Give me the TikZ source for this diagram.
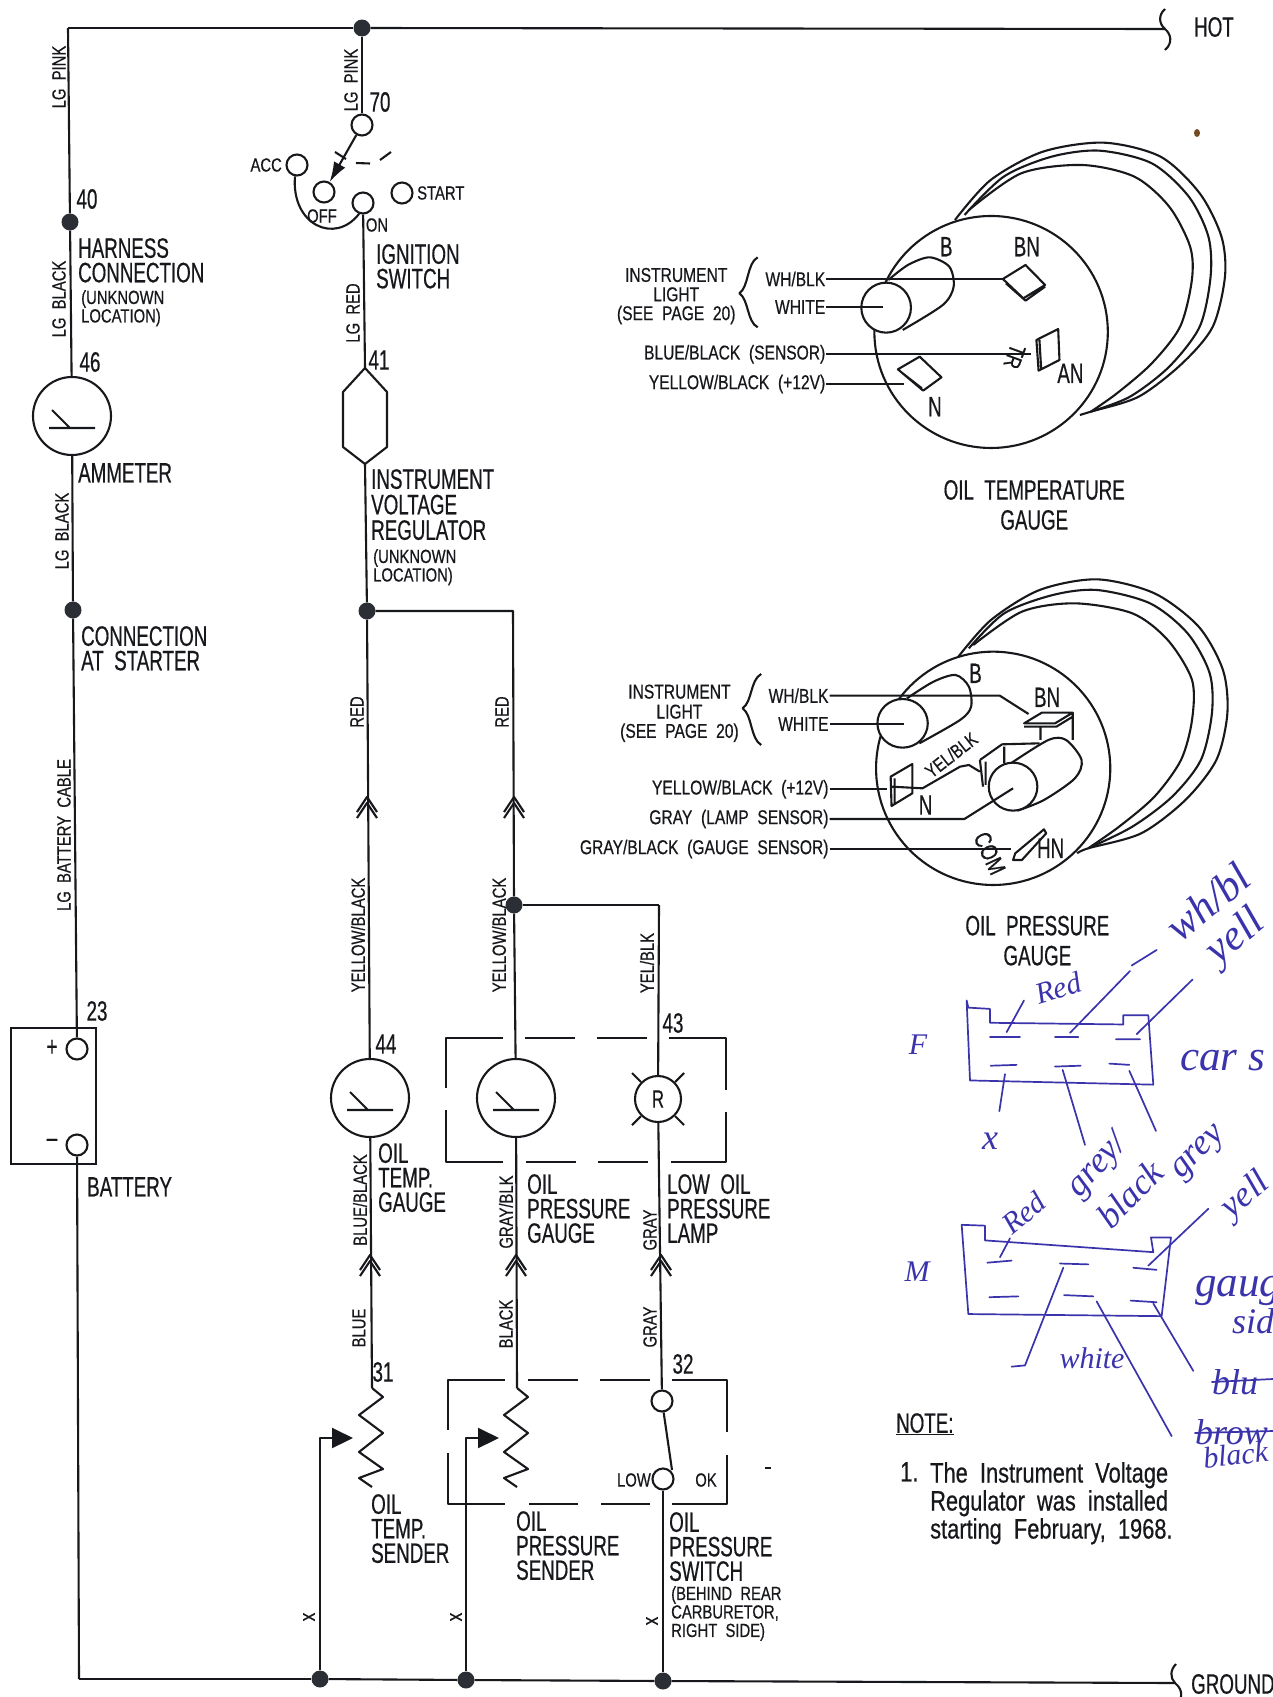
\documentclass[tikz,border=0pt]{standalone}
\usepackage{fontspec}
\usetikzlibrary{arrows.meta}
\setmainfont{Liberation Sans}
\newfontfamily\bigf{Liberation Sans}[FakeStretch=0.67,FakeBold=0.5]
\newfontfamily\smf{Liberation Sans}[FakeStretch=0.78,FakeBold=0.5]
\newfontfamily\penf{Liberation Serif}[Ligatures=TeX]
\newcommand\BF{\bigf\fontsize{28}{24.5}\selectfont}
\newcommand\SF{\smf\fontsize{19}{18.5}\selectfont}
\newcommand\PF{\smf\fontsize{20}{20}\selectfont}
\newcommand\NF{\smf\fontsize{28}{28}\selectfont}
\newcommand\HF{\penf\itshape\fontsize{36}{36}\selectfont}
\newcommand\HS{\penf\itshape\fontsize{30}{30}\selectfont}
\newcommand\HL{\penf\itshape\fontsize{43}{43}\selectfont}
\definecolor{ink}{HTML}{17181B}
\definecolor{dot}{HTML}{2B2E35}
\definecolor{pen}{HTML}{3A33AC}
\tikzset{
  wire/.style={draw=ink,line width=2.1pt,line join=round},
  term/.style={circle,draw=ink,line width=2.1pt,fill=white,minimum size=21pt,inner sep=0pt},
  junc/.style={circle,fill=dot,draw=none,minimum size=17pt,inner sep=0pt},
  meter/.style={circle,draw=ink,line width=2.1pt,fill=white,minimum size=78pt,inner sep=0pt},
  lamp/.style={circle,draw=ink,line width=2.1pt,fill=white,minimum size=46pt,inner sep=0pt,text=ink,font=\bigf\fontsize{25}{25}\selectfont},
  big/.style={anchor=north west,inner sep=0pt,align=left,text=ink,font=\BF},
  num/.style={inner sep=0pt,text=ink,font=\BF},
  small/.style={anchor=north west,inner sep=0pt,align=left,text=ink,font=\SF},
  wl/.style={rotate=90,inner sep=0pt,text=ink,font=\SF},
  pin/.style={anchor=east,inner sep=1pt,text=ink,font=\PF},
  ctr/.style={inner sep=0pt,align=center,text=ink,font=\PF},
  title/.style={inner sep=0pt,align=center,text=ink,font=\bigf\fontsize{28}{30}\selectfont},
  hand/.style={inner sep=0pt,text=pen,font=\HF},
  penline/.style={draw=pen,line width=1.7pt,line cap=round,line join=round},
  chev/.pic={\draw[wire] (-10,15)--(0,0)--(10,15) (-10,21)--(0,6)--(10,21);},
  needle/.pic={\draw[wire] (-23,12)--(23,12) (-20,-6)--(-2,12);},
  resist/.pic={\draw[wire] (0,0)--(11,9)--(-13,27)--(11,45)--(-13,64)--(11,81)--(-13,90)--(0,99);},
}
\begin{document}
\begin{tikzpicture}[x=1pt,y=-1pt]
\useasboundingbox (0,0) rectangle (1273,1697);
\fill[white] (0,0) rectangle (1273,1697);

% ---------- left branch ----------
\coordinate (c0) at (68,28);
\node[junc] (j40) at (70,222) {};
\node[meter] (amm) at (72,416) {};
\pic at (amm) {needle};
\node[junc] (jst) at (73,610) {};
\draw[draw=ink,line width=2.1pt] (11,1028) rectangle (96,1164);
\node[term] (bp) at (77,1049) {};
\node[term] (bm) at (77,1145) {};
\coordinate (gc) at (79,1679);
\draw[wire] (c0)--(j40);
\draw[wire] (j40)--(amm);
\draw[wire] (amm)--(jst);
\draw[wire] (jst)--(bp);
\draw[wire] (bm)--(gc);
\node[wl] at (59,77) {LG\ \ PINK};
\node[wl] at (59,299) {LG\ \ BLACK};
\node[wl] at (62,531) {LG\ \ BLACK};
\node[wl] at (64,835) {LG\ \ BATTERY\ \ CABLE};
\node[num] at (87,199) {40};
\node[num] at (90,362) {46};
\node[num] at (97,1011) {23};
\node[big] at (78,238) {HARNESS\\CONNECTION};
\node[small] at (81,290) {(UNKNOWN\\LOCATION)};
\node[big] at (78,463) {AMMETER};
\node[big] at (81,626) {CONNECTION\\AT\ \ STARTER};
\node[big] at (87,1177) {BATTERY};
\node[inner sep=0pt,text=ink,font=\BF] at (52,1048) {+};
\node[inner sep=0pt,text=ink,font=\BF] at (52,1143) {–};

% ---------- buses ----------
\node[junc] (j0) at (362,28) {};
\coordinate (hotend) at (1165,29);
\draw[wire] (c0)--(j0);
\draw[wire] (j0)--(hotend);
\draw[wire] (1165,9) .. controls (1158,15) and (1159,24) .. (hotend) .. controls (1171,34) and (1173,43) .. (1165,50);
\node[num] at (1214,27) {HOT};
\node[junc] (g1) at (320,1679) {};
\node[junc] (g2) at (466,1680) {};
\node[junc] (g3) at (663,1681) {};
\coordinate (gndend) at (1175,1683);
\draw[wire] (gc)--(g1);
\draw[wire] (g1)--(g2);
\draw[wire] (g2)--(g3);
\draw[wire] (g3)--(gndend);
\draw[wire] (1176,1664) .. controls (1170,1670) and (1170,1678) .. (gndend) .. controls (1180,1687) and (1182,1692) .. (1181,1697);
\node[num,anchor=west] at (1191,1684) {GROUND};

% ---------- ignition switch ----------
\node[term] (t70) at (362,125) {};
\node[term] (tacc) at (297,165) {};
\node[term] (toff) at (324,192) {};
\node[term] (ton) at (363,203) {};
\node[term] (tst) at (402,193) {};
\draw[wire] (j0)--(t70);
\draw[wire,-{Latex[length=20pt,width=13pt]}] (t70)--(toff);
\draw[wire] (335,152)--(346,159);
\draw[wire] (356,163)--(370,163.5);
\draw[wire] (380,160)--(391,152);
\draw[wire] (tacc.260) .. controls (291,225) and (335,245) .. (ton.250);
\node[wl] at (351,80) {LG\ \ PINK};
\node[num] at (380,102) {70};
\node[anchor=east,inner sep=0pt,text=ink,font=\SF] at (282,165) {ACC};
\node[anchor=west,inner sep=0pt,text=ink,font=\SF] at (417,193) {START};
\node[inner sep=0pt,text=ink,font=\SF] at (322,216) {OFF};
\node[inner sep=0pt,text=ink,font=\SF] at (377,225) {ON};
\node[big] at (376,244) {IGNITION\\SWITCH};
\node[wl] at (353,313) {LG\ \ RED};
\node[num] at (379,360) {41};

% ---------- regulator ----------
\coordinate (rtop) at (365,368);
\coordinate (rbot) at (365,464);
\draw[wire] (rtop)--(387,392)--(387,447)--(rbot)--(343,447)--(343,392)--cycle;
\draw[wire] (ton)--(rtop);
\node[junc] (jr) at (367,611) {};
\coordinate (jrc) at (513,611);
\node[junc] (jy) at (514,905) {};
\coordinate (jyc) at (659,905);
\draw[wire] (rbot)--(jr);
\draw[wire] (jr)--(jrc)--(jy);
\draw[wire] (jy)--(jyc);
\node[big,font=\bigf\fontsize{28}{25.5}\selectfont] at (371,469) {INSTRUMENT\\VOLTAGE\\REGULATOR};
\node[small] at (373,549) {(UNKNOWN\\LOCATION)};

% ---------- gauges and lamp ----------
\node[meter] (m1) at (370,1098) {};
\node[meter] (m2) at (516,1098) {};
\node[lamp] (l1) at (658,1099) {R};
\pic at (m1) {needle};
\pic at (m2) {needle};
\draw[wire] (l1.135)--++(-9,-9);
\draw[wire] (l1.45)--++(9,-9);
\draw[wire] (l1.225)--++(-9,9);
\draw[wire] (l1.315)--++(9,9);
\draw[wire] (jr)--(m1);
\draw[wire] (jy)--(m2);
\draw[wire] (jyc)--(l1);
\pic at (367,797) {chev};
\pic at (514,797) {chev};
\node[wl] at (357,712) {RED};
\node[wl] at (502,712) {RED};
\node[wl] at (358,935) {YELLOW/BLACK};
\node[wl] at (499,935) {YELLOW/BLACK};
\node[wl] at (647,963) {YEL/BLK};
\node[num] at (386,1044) {44};
\node[num] at (673,1023) {43};
\draw[wire] (503,1038)--(446,1038)--(446,1088)
  (525,1038)--(575,1038) (597,1038)--(647,1038)
  (669,1038)--(726,1038)--(726,1090)
  (446,1110)--(446,1162)--(503,1162)
  (526,1162)--(576,1162) (598,1162)--(648,1162)
  (671,1162)--(726,1162)--(726,1112);
\node[wl] at (360,1200) {BLUE/BLACK};
\node[wl] at (506,1212) {GRAY/BLK};
\node[wl] at (650,1230) {GRAY};
\node[big] at (378,1143) {OIL\\TEMP.\\GAUGE};
\node[big] at (527,1174) {OIL\\PRESSURE\\GAUGE};
\node[big] at (667,1174) {LOW\ \ OIL\\PRESSURE\\LAMP};

% ---------- senders ----------
\coordinate (r1) at (372,1388);
\coordinate (r2) at (517,1388);
\pic at (r1) {resist};
\pic at (r2) {resist};
\pic at (370,1255) {chev};
\pic at (516,1255) {chev};
\pic at (661,1255) {chev};
\draw[wire] (m1)--(r1);
\draw[wire] (m2)--(r2);
\node[term] (s1) at (662,1401) {};
\node[term] (s2) at (663,1479) {};
\draw[wire] (l1)--(s1);
\draw[wire] (s1)--(672,1470);
\draw[wire] (s2)--(g3);
\coordinate (tip1) at (353,1438);
\coordinate (tip2) at (499,1438);
\draw[wire,-{Triangle[length=21pt,width=20pt]}] (g1)|-(tip1);
\draw[wire,-{Triangle[length=21pt,width=20pt]}] (g2)|-(tip2);
\draw[wire] (505,1380)--(448,1380)--(448,1430)
  (528,1380)--(578,1380) (600,1380)--(650,1380)
  (672,1380)--(727,1380)--(727,1432)
  (448,1453)--(448,1504)--(505,1504)
  (529,1504)--(578,1504) (601,1504)--(650,1504)
  (672,1504)--(727,1504)--(727,1455);
\node[num] at (383,1372) {31};
\node[num] at (683,1364) {32};
\node[wl] at (359,1328) {BLUE};
\node[wl] at (506,1324) {BLACK};
\node[wl] at (650,1327) {GRAY};
\node[anchor=east,inner sep=0pt,text=ink,font=\SF] at (651,1480) {LOW};
\node[inner sep=0pt,text=ink,font=\SF] at (706,1480) {OK};
\node[big] at (371,1494) {OIL\\TEMP.\\SENDER};
\node[big] at (516,1511) {OIL\\PRESSURE\\SENDER};
\node[big] at (669,1512) {OIL\\PRESSURE\\SWITCH};
\node[small] at (671,1586) {(BEHIND\ \ REAR\\CARBURETOR,\\RIGHT\ \ SIDE)};
\node[wl,font=\smf\fontsize{22}{22}\selectfont] at (309,1617) {x};
\node[wl,font=\smf\fontsize{22}{22}\selectfont] at (456,1617) {x};
\node[wl,font=\smf\fontsize{22}{22}\selectfont] at (652,1621) {x};
\draw[wire] (765,1468)--(771,1468);
\fill[brown!60!black] (1197,133) ellipse (3pt and 4pt);

% ---------- oil temperature gauge ----------
\begin{scope}[shift={(590,130)},x=0.4355pt,y=-0.3333pt]
  \draw[wire] (921,606) ellipse [x radius=268,y radius=348];
  \draw[wire] plot[smooth] coordinates {(838,270)(920,150)(1040,65)(1180,38)(1310,80)(1400,190)(1450,320)(1458,440)(1430,590)(1360,700)(1260,800)(1150,845)(1125,855)};
  \draw[wire] plot[smooth] coordinates {(860,255)(950,140)(1060,80)(1170,62)(1290,100)(1375,200)(1420,320)(1425,440)(1400,590)(1330,710)(1240,800)(1150,845)};
  \draw[wire] plot[smooth] coordinates {(870,240)(990,130)(1130,105)(1250,140)(1330,230)(1378,350)(1382,450)(1355,590)(1290,700)(1210,790)(1150,845)};
  \draw[wire,fill=white] (680,533) ellipse [x radius=57,y radius=75];
  \draw[wire] plot[smooth] coordinates {(685,450)(730,405)(780,382)(825,410)(835,470)(810,525)(718,600)};
  \draw[wire] (948,447)--(1000,405)--(1045,465)--(995,505)--cycle (955,460)--(1000,512)--(1045,470);
  \draw[wire] (1025,630)--(1075,597)--(1078,690)--(1030,722)--cycle (1032,630)--(1036,718);
  \draw[wire] (707,718)--(757,680)--(807,742)--(765,782)--cycle (716,728)--(762,775);
  \draw[wire] (385,382) .. controls (360,400) and (365,470) .. (343,490) .. controls (365,510) and (360,575) .. (385,592);
  \node[ctr] at (198,435) {INSTRUMENT};
  \node[ctr] at (198,493) {LIGHT};
  \node[ctr] at (198,555) {(SEE\ \ PAGE\ \ 20)};
  \node[pin] (a1) at (543,447) {WH/BLK};
  \node[pin] (a2) at (543,531) {WHITE};
  \node[pin] (a3) at (543,673) {BLUE/BLACK\ \ (SENSOR)};
  \node[pin] (a4) at (543,762) {YELLOW/BLACK\ \ (+12V)};
  \draw[wire] (a1.east)--(948,447);
  \draw[wire] (a2.east)--(672,531);
  \draw[wire] (a3.east)--(1012,673);
  \draw[wire] (a4.east)--(720,762);
  \node[rotate=-110,inner sep=0pt,text=ink,font=\smf\fontsize{23}{23}\selectfont] at (975,680) {TR};
  \node[num] at (818,350) {B};
  \node[num] at (1003,350) {BN};
  \node[num] at (1103,730) {AN};
  \node[num] at (792,830) {N};
  \node[title] at (1020,1125) {OIL\ \ TEMPERATURE\\GAUGE};
\end{scope}

% ---------- oil pressure gauge ----------
\begin{scope}[shift={(580,570)},x=0.4419pt,y=-0.3333pt]
  \draw[wire] (935,595) ellipse [x radius=265,y radius=350];
  \draw[wire] plot[smooth] coordinates {(855,262)(930,150)(1040,60)(1170,28)(1300,70)(1400,170)(1455,300)(1465,430)(1440,570)(1370,690)(1270,790)(1150,835)(1125,850)};
  \draw[wire] plot[smooth] coordinates {(880,235)(960,130)(1070,75)(1170,60)(1290,100)(1375,190)(1425,310)(1430,430)(1405,570)(1340,680)(1250,770)(1150,835)};
  \draw[wire] plot[smooth] coordinates {(890,225)(1000,125)(1120,100)(1250,130)(1330,210)(1385,330)(1385,450)(1360,570)(1300,680)(1220,770)(1150,835)};
  \draw[wire,fill=white] (730,460) ellipse [x radius=57,y radius=73];
  \draw[wire] plot[smooth] coordinates {(740,385)(800,335)(850,315)(880,350)(885,410)(860,450)(768,520)};
  \draw[wire] (1005,460)--(1045,428)--(1115,428)--(1075,460)--cycle (1005,470)--(1078,470)--(1115,440) (1115,428)--(1115,510) (1042,470)--(1042,510);
  \draw[wire] plot[smooth] coordinates {(975,580)(1060,510)(1100,510)(1135,570)(1120,625)(1050,690)(990,722)};
  \draw[wire,fill=white] (980,650) ellipse [x radius=55,y radius=72];
  \draw[wire] (905,570)--(912,650) (905,570)--(955,523)--(1040,520) (960,530)--(960,580) (918,575)--(918,645);
  \draw[wire] (703,620)--(752,582)--(752,670)--(705,708)--cycle (712,625)--(712,700);
  \draw[wire] (705,650)--(775,655)--(860,590)--(880,585)--(905,605);
  \draw[wire] (985,850)--(1050,778)--(1055,790)--(1000,870)--(980,870)--cycle;
  \draw[wire] (410,312) .. controls (385,330) and (390,395) .. (368,415) .. controls (390,435) and (385,505) .. (410,525);
  \node[ctr] at (225,365) {INSTRUMENT};
  \node[ctr] at (225,425) {LIGHT};
  \node[ctr] at (225,488) {(SEE\ \ PAGE\ \ 20)};
  \node[pin] (b1) at (565,377) {WH/BLK};
  \node[pin] (b2) at (565,462) {WHITE};
  \node[pin] (b3) at (565,658) {YELLOW/BLACK\ \ (+12V)};
  \node[pin] (b4) at (565,747) {GRAY\ \ (LAMP\ \ SENSOR)};
  \node[pin] (b5) at (565,837) {GRAY/BLACK\ \ (GAUGE\ \ SENSOR)};
  \draw[wire] (b1.east)--(950,377)--(1015,432);
  \draw[wire] (b2.east)--(733,462);
  \draw[wire] (b3.east)--(695,658);
  \draw[wire] (b4.east)--(870,747)--(980,655);
  \draw[wire] (b5.east)--(975,837);
  \node[rotate=38,inner sep=0pt,text=ink,font=\SF] at (840,555) {YEL/BLK};
  \node[rotate=-65,inner sep=0pt,text=ink,font=\smf\fontsize{24}{24}\selectfont] at (927,850) {COM};
  \node[num] at (895,310) {B};
  \node[num] at (1057,382) {BN};
  \node[num] at (782,705) {N};
  \node[num] at (1065,835) {HN};
  \node[title] at (1035,1112) {OIL\ \ PRESSURE\\GAUGE};
\end{scope}

% ---------- note ----------
\node[anchor=north west,inner sep=0pt,text=ink,font=\BF] at (896,1413) {\underline{NOTE:}};
\node[anchor=north west,inner sep=0pt,text=ink,font=\NF] at (900,1462) {1.};
\node[anchor=north west,inner sep=0pt,align=left,text=ink,font=\NF] at (930,1462) {The\ \ Instrument\ \ Voltage\\Regulator\ \ was\ \ installed\\starting\ \ February,\ \ 1968.};

% ---------- pen notes ----------
\begin{scope}[shift={(870,830)},x=0.3333pt,y=-0.4209pt]
  \draw[penline] (295,422)--(290,405)--(300,595)--(850,605)--(835,440)--(760,440)--(760,462)--(360,458)--(360,425)--(295,422);
  \draw[penline] (360,492)--(450,492) (555,492)--(625,492) (738,497)--(810,497)
    (362,560)--(440,558) (555,562)--(632,560) (718,555)--(778,558);
  \draw[penline] (410,480)--(462,405) (600,482)--(780,335) (785,322)--(860,285) (800,485)--(968,355)
    (405,580)--(388,668) (578,570)--(645,748) (778,572)--(858,715);
  \draw[penline] (275,938)--(295,1150)--(875,1155)--(903,968)--(843,968)--(850,1003)--(345,975)--(345,940)--cycle;
  \draw[penline] (352,1028)--(425,1023) (570,1030)--(655,1032) (790,1040)--(860,1045)
    (358,1110)--(445,1108) (582,1105)--(670,1108) (782,1118)--(860,1122);
  \draw[penline] (390,1015)--(420,970) (835,1035)--(1015,900) (580,1040)--(465,1272)--(425,1275)
    (680,1120)--(905,1440) (850,1125)--(970,1285);
\end{scope}
\node[hand,font=\HS] at (918,1045) {F};
\node[hand,font=\HS] at (917,1272) {M};
\node[hand,font=\HF] at (990,1141) {x};
\node[hand,rotate=18,font=\HS] at (1058,988) {Red};
\node[hand,rotate=40,font=\HL] at (1208,902) {wh/bl};
\node[hand,rotate=40,font=\HL] at (1236,938) {yell};
\node[hand,anchor=west,font=\HL] at (1180,1061) {car s};
\node[hand,rotate=47,font=\HF] at (1098,1166) {grey/};
\node[hand,rotate=45,font=\HF] at (1130,1194) {black};
\node[hand,rotate=45,font=\HF] at (1200,1154) {grey};
\node[hand,rotate=40,font=\HS] at (1024,1213) {Red};
\node[hand,rotate=40,anchor=west,font=\HF] at (1226,1213) {yell};
\node[hand,anchor=west,font=\HL] at (1195,1291) {gaug};
\node[hand,anchor=west,font=\HF] at (1232,1321) {sid};
\node[hand,font=\HS] at (1092,1358) {white};
\node[hand,anchor=west,font=\HF] at (1212,1382) {blu};
\node[hand,anchor=west,font=\HF] at (1195,1432) {brow};
\node[hand,anchor=west,rotate=6,font=\HS] at (1203,1458) {black};
\draw[penline] (1212,1382)--(1273,1379);
\draw[penline] (1195,1433)--(1273,1431);
\end{tikzpicture}
\end{document}
